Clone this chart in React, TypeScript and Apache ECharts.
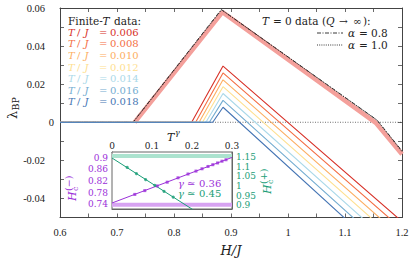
import React, { useEffect, useRef } from 'react';
import * as echarts from 'echarts';

// ---------- data ----------
const tempLabels = ['0.006', '0.008', '0.010', '0.012', '0.014', '0.016', '0.018'];
const tempColors = ['#d73027', '#f46d43', '#fdae61', '#fee090', '#abd9e9', '#74add1', '#4575b4'];

// finite-T data, [H/J, lambda_BP]
const finiteT006 = [[0.6, 0], [0.831, 0], [0.886, 0.0295], [1.2, -0.0521]];
const finiteT008 = [[0.6, 0], [0.838, 0], [0.886, 0.0259], [1.2, -0.0561]];
const finiteT010 = [[0.6, 0], [0.844, 0], [0.886, 0.0223], [1.2, -0.0605]];
const finiteT012 = [[0.6, 0], [0.85, 0], [0.886, 0.0187], [1.2, -0.0646]];
const finiteT014 = [[0.6, 0], [0.856, 0], [0.886, 0.0151], [1.2, -0.0689]];
const finiteT016 = [[0.6, 0], [0.862, 0], [0.886, 0.0115], [1.2, -0.0732]];
const finiteT018 = [[0.6, 0], [0.868, 0], [0.886, 0.0079], [1.2, -0.0778]];
const finiteTSeries = [finiteT006, finiteT008, finiteT010, finiteT012, finiteT014, finiteT016, finiteT018];

// T = 0 data
const bandT0 = [[0.731, 0], [0.885, 0.0578], [1.154, -0.0003], [1.2, -0.0168]];
const alpha08 = [[0.6, 0], [0.728, 0], [0.883, 0.0592], [1.156, 0.0012], [1.2, -0.015]];
const alpha10 = [[0.6, 0], [0.7285, 0], [0.8835, 0.059], [1.1565, 0.001], [1.2, -0.0155]];
const zeroLine = [[0.6, 0], [1.2, 0]];

// inset data, [T^gamma, H_c]
const hcMinusBand = [[0, 0.7387], [0.3, 0.7387]];
const hcPlusBand = [[0, 1.1568], [0.3, 1.1568]];
const hcMinusFit = [[0, 0.7445], [0.3, 0.901]];
const hcPlusFit = [[0, 1.1464], [0.21, 0.867]];
const hcMinusPts = [[0.057, 0.774], [0.082, 0.787], [0.113, 0.803], [0.138, 0.816], [0.165, 0.831], [0.19, 0.844], [0.21, 0.854], [0.225, 0.862], [0.24, 0.87], [0.252, 0.876], [0.264, 0.882], [0.275, 0.888], [0.285, 0.893]];
const hcPlusPts = [[0.038, 1.097], [0.061, 1.065], [0.084, 1.034], [0.107, 1.004], [0.13, 0.973], [0.153, 0.943]];

const insetLeftLabels = [0.74, 0.78, 0.82, 0.86, 0.9];
const insetLeftTicks = [0.74, 0.76, 0.78, 0.8, 0.82, 0.84, 0.86, 0.88, 0.9];
const insetRightLabels = [0.9, 0.95, 1, 1.05, 1.1, 1.15];
const insetRightTicks = [0.9, 0.925, 0.95, 0.975, 1, 1.025, 1.05, 1.075, 1.1, 1.125, 1.15];

// ---------- styles ----------
const SERIF = 'DejaVu Serif';
const TICKFONT = 'Liberation Serif';
const FRAME = '#444';
const PURPLE = '#9b30d9';
const GREEN = '#1a9e77';

function App() {
  const ref = useRef<HTMLDivElement>(null);
  useEffect(() => {
    if (!ref.current) return;
    const chart = echarts.init(ref.current, null, { renderer: 'svg' });

    const mainTickStyle = { inside: true, length: 4, lineStyle: { color: FRAME, width: 0.8 } };
    const axisLineStyle = { show: true, onZero: false, lineStyle: { color: FRAME, width: 1 } };

    const txt = (x: number, y: number, text: string, o: any = {}) => ({
      type: 'text',
      x,
      y,
      z: 100,
      style: {
        text,
        fill: o.fill || '#222',
        fontFamily: SERIF,
        fontSize: o.fontSize || 10,
        fontStyle: o.italic ? 'italic' : 'normal',
        align: o.align || 'left',
        verticalAlign: 'middle',
      },
    });

    const rotatedHc = (x: number, y: number, sign: string, color: string) => ({
      type: 'group',
      x,
      y,
      rotation: Math.PI / 2,
      z: 100,
      children: [
        { type: 'text', x: 0, y: 0, style: { text: 'H', fontStyle: 'italic', fontSize: 11, fontFamily: SERIF, fill: color, align: 'left', verticalAlign: 'middle' } },
        { type: 'text', x: 10, y: 3.5, style: { text: 'c', fontSize: 8, fontFamily: SERIF, fill: color, align: 'left', verticalAlign: 'middle' } },
        { type: 'text', x: 10, y: -4, style: { text: '(' + sign + ')', fontSize: 9.5, fontFamily: SERIF, fill: color, align: 'left', verticalAlign: 'middle' } },
      ],
    });

    const legendLeft: any[] = [
      txt(68, 20.7, 'Finite-', { fontSize: 10.5 }),
      txt(102.5, 20.7, 'T', { fontSize: 10.5, italic: true }),
      txt(114, 20.7, 'data:', { fontSize: 10.5 }),
    ];
    tempLabels.forEach((lab, i) => {
      const y = 32.3 + i * 11.57;
      const c = tempColors[i];
      legendLeft.push(txt(68, y, 'T', { fill: c, italic: true }));
      legendLeft.push(txt(77, y, '/', { fill: c }));
      legendLeft.push(txt(84.5, y, 'J', { fill: c, italic: true }));
      legendLeft.push(txt(99, y, '=', { fill: c }));
      legendLeft.push(txt(110, y, lab, { fill: c }));
    });

    const legendRight: any[] = [
      txt(262, 20.7, 'T', { italic: true, fontSize: 10.5 }),
      txt(273, 20.7, '=', { fontSize: 10.5 }),
      txt(285, 20.7, '0', { fontSize: 10.5 }),
      txt(295, 20.7, 'data', { fontSize: 10.5 }),
      txt(322, 20.7, '(', { fontSize: 10.5 }),
      txt(326, 20.7, 'Q', { italic: true, fontSize: 10.5 }),
      txt(339, 20.7, '→', { fontSize: 10.5 }),
      txt(353, 20.7, '∞', { fontSize: 10.5 }),
      txt(363, 20.7, '):', { fontSize: 10.5 }),
      txt(348, 33, 'α', { italic: true, fontSize: 10.5 }),
      txt(359, 33, '=', { fontSize: 10.5 }),
      txt(371, 33, '0.8', { fontSize: 10.5 }),
      txt(348, 45, 'α', { italic: true, fontSize: 10.5 }),
      txt(359, 45, '=', { fontSize: 10.5 }),
      txt(371, 45, '1.0', { fontSize: 10.5 }),
      { type: 'line', z: 100, shape: { x1: 317, y1: 33, x2: 343, y2: 33 }, style: { stroke: '#222', lineWidth: 0.9, lineDash: [4, 1.5, 1, 1.5] } },
      { type: 'line', z: 100, shape: { x1: 317, y1: 45, x2: 343, y2: 45 }, style: { stroke: '#222', lineWidth: 0.9, lineDash: [1, 1.2] } },
    ];

    const graphics: any[] = [
      ...legendLeft,
      ...legendRight,
      {
        type: 'group', x: 12, y: 119, rotation: Math.PI / 2, z: 100,
        children: [
          { type: 'text', x: 0, y: 0, style: { text: 'λ', fontSize: 13, fontFamily: SERIF, fill: '#222', align: 'left', verticalAlign: 'middle' } },
          { type: 'text', x: 8.5, y: 3, style: { text: 'BP', fontSize: 9.5, fontFamily: SERIF, fill: '#222', align: 'left', verticalAlign: 'middle' } },
        ],
      },
      txt(231, 250, 'H/J', { align: 'center', fontSize: 13, italic: true }),
      txt(167, 137, 'T', { fontSize: 11, italic: true }),
      txt(175, 132.5, 'γ', { fontSize: 8, italic: true }),
      rotatedHc(72, 201, '−', PURPLE),
      rotatedHc(267, 194, '+', GREEN),
      txt(178, 183.5, 'γ', { fontSize: 10, fill: PURPLE, italic: true }),
      txt(187, 183.5, '≃', { fontSize: 10, fill: PURPLE }),
      txt(199, 183.5, '0.36', { fontSize: 10, fill: PURPLE }),
      txt(178, 193.3, 'γ', { fontSize: 10, fill: GREEN, italic: true }),
      txt(187, 193.3, '≃', { fontSize: 10, fill: GREEN }),
      txt(199, 193.3, '0.45', { fontSize: 10, fill: GREEN }),
    ];

    const xMainFormatter = (v: number) => {
      const r = Math.round(v * 100);
      if (r % 10 !== 0) return '';
      return String(r / 100);
    };
    const yMainFormatter = (v: number) => {
      const r = Math.round(v * 100);
      if (r % 2 !== 0) return '';
      if (r === 0) return '0';
      return '{n|' + (r / 100).toFixed(2) + '}';
    };
    const xInsetFormatter = (v: number) => {
      const r = Math.round(v * 100);
      if (r % 10 !== 0) return '';
      return String(r / 100);
    };

    const option: any = {
      animation: false,
      backgroundColor: '#fff',
      grid: [
        { left: 60, top: 8, width: 342, height: 209.5, show: false },
        { left: 112, top: 152, width: 120, height: 57, show: true, backgroundColor: '#fff', borderColor: '#666', borderWidth: 1, z: 3 },
      ],
      xAxis: [
        {
          type: 'value', gridIndex: 0, position: 'bottom', min: 0.6, max: 1.2, interval: 0.05,
          axisLine: axisLineStyle, axisTick: mainTickStyle, splitLine: { show: false },
          axisLabel: { formatter: xMainFormatter, margin: 9, fontFamily: TICKFONT, fontSize: 10.5, color: '#222', showMinLabel: true, showMaxLabel: true },
        },
        {
          type: 'value', gridIndex: 0, position: 'top', min: 0.6, max: 1.2, interval: 0.05,
          axisLine: axisLineStyle, axisTick: mainTickStyle, splitLine: { show: false }, axisLabel: { show: false },
        },
        {
          type: 'value', gridIndex: 1, position: 'top', min: 0, max: 0.3, interval: 0.05,
          axisLine: { show: true, onZero: false, lineStyle: { color: '#666', width: 1 } },
          axisTick: { inside: true, length: 3, lineStyle: { color: '#666', width: 0.8 } },
          splitLine: { show: false },
          axisLabel: { formatter: xInsetFormatter, margin: 2, fontFamily: SERIF, fontSize: 9, color: '#222', showMinLabel: true, showMaxLabel: true },
        },
        {
          type: 'value', gridIndex: 1, position: 'bottom', min: 0, max: 0.3, interval: 0.05,
          axisLine: { show: true, onZero: false, lineStyle: { color: '#666', width: 1 } },
          axisTick: { inside: true, length: 3, lineStyle: { color: '#666', width: 0.8 } },
          splitLine: { show: false }, axisLabel: { show: false },
        },
      ],
      yAxis: [
        {
          type: 'value', gridIndex: 0, position: 'left', min: -0.05, max: 0.06, interval: 0.01,
          axisLine: axisLineStyle, axisTick: mainTickStyle, splitLine: { show: false },
          axisLabel: {
            formatter: yMainFormatter, margin: 6, fontFamily: TICKFONT, fontSize: 10.5, color: '#222',
            showMinLabel: true, showMaxLabel: true,
            rich: { n: { padding: [0, 9, 0, 0], fontFamily: TICKFONT, fontSize: 10.5, color: '#222' } },
          },
        },
        {
          type: 'value', gridIndex: 0, position: 'right', min: -0.05, max: 0.06, interval: 0.01,
          axisLine: axisLineStyle, axisTick: mainTickStyle, splitLine: { show: false }, axisLabel: { show: false },
        },
        {
          type: 'value', gridIndex: 1, position: 'left', min: 0.7239, max: 0.9196,
          axisLine: { show: true, onZero: false, lineStyle: { color: '#666', width: 1 } },
          axisTick: { inside: true, length: 3, customValues: insetLeftTicks, lineStyle: { color: PURPLE, width: 0.8 } },
          splitLine: { show: false },
          axisLabel: { customValues: insetLeftLabels, margin: 4, fontFamily: SERIF, fontSize: 9, color: PURPLE },
        },
        {
          type: 'value', gridIndex: 1, position: 'right', min: 0.8807, max: 1.1776,
          axisLine: { show: true, onZero: false, lineStyle: { color: '#666', width: 1 } },
          axisTick: { inside: true, length: 3, customValues: insetRightTicks, lineStyle: { color: GREEN, width: 0.8 } },
          splitLine: { show: false },
          axisLabel: { customValues: insetRightLabels, margin: 4, fontFamily: SERIF, fontSize: 9, color: GREEN },
        },
      ],
      series: [
        {
          type: 'line', xAxisIndex: 0, yAxisIndex: 0, data: zeroLine, showSymbol: false, symbol: 'none',
          lineStyle: { color: '#333', width: 0.7, type: [1, 1.5] }, z: 1,
        },
        {
          type: 'line', xAxisIndex: 0, yAxisIndex: 0, data: bandT0, showSymbol: false, symbol: 'none',
          lineStyle: { color: '#f4a09b', width: 4.5 }, z: 2,
        },
        {
          type: 'line', xAxisIndex: 0, yAxisIndex: 0, data: alpha08, showSymbol: false, symbol: 'none',
          lineStyle: { color: '#222', width: 0.9, type: [4, 1.5, 1, 1.5] }, z: 3,
        },
        {
          type: 'line', xAxisIndex: 0, yAxisIndex: 0, data: alpha10, showSymbol: false, symbol: 'none',
          lineStyle: { color: '#222', width: 0.9, type: [1, 1.2] }, z: 3,
        },
        ...finiteTSeries.map((d, i) => ({
          type: 'line', xAxisIndex: 0, yAxisIndex: 0, data: d, showSymbol: false, symbol: 'none',
          lineStyle: { color: tempColors[i], width: 1.1 }, z: 4,
        })),
        {
          type: 'line', xAxisIndex: 2, yAxisIndex: 2, data: hcMinusBand, showSymbol: false, symbol: 'none',
          lineStyle: { color: '#d7a3f2', width: 4 }, z: 5,
        },
        {
          type: 'line', xAxisIndex: 2, yAxisIndex: 3, data: hcPlusBand, showSymbol: false, symbol: 'none',
          lineStyle: { color: '#ace3cf', width: 4 }, z: 5,
        },
        {
          type: 'line', xAxisIndex: 2, yAxisIndex: 2, data: hcMinusFit, showSymbol: false, symbol: 'none',
          lineStyle: { color: PURPLE, width: 1 }, z: 6,
        },
        {
          type: 'line', xAxisIndex: 2, yAxisIndex: 3, data: hcPlusFit, showSymbol: false, symbol: 'none',
          lineStyle: { color: GREEN, width: 1 }, z: 6,
        },
        {
          type: 'scatter', xAxisIndex: 2, yAxisIndex: 2, data: hcMinusPts, symbol: 'rect', symbolSize: 3,
          itemStyle: { color: PURPLE }, z: 7,
        },
        {
          type: 'scatter', xAxisIndex: 2, yAxisIndex: 3, data: hcPlusPts, symbol: 'circle', symbolSize: 3.2,
          itemStyle: { color: GREEN }, z: 7,
        },
      ],
      graphic: graphics,
    };

    chart.setOption(option);
    return () => chart.dispose();
  }, []);

  return <div ref={ref} style={{ width: 415, height: 259, position: 'absolute', left: 0, top: 0 }} />;
}

export default App;
